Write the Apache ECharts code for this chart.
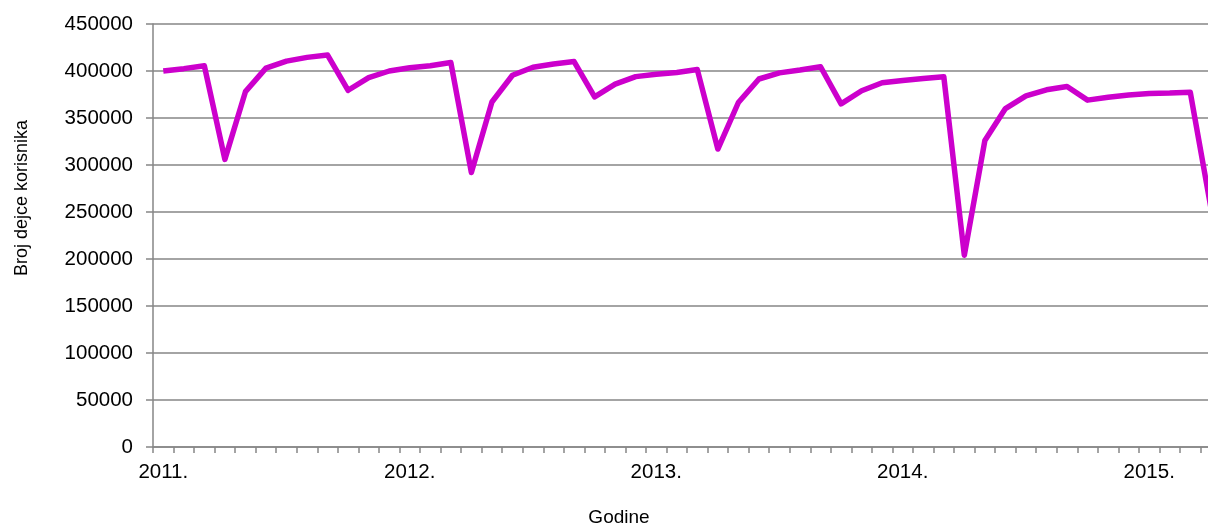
<!DOCTYPE html>
<html>
<head>
<meta charset="utf-8">
<title>Broj dejce korisnika</title>
<script src="https://cdn.jsdelivr.net/npm/echarts@6/dist/echarts.min.js"></script>
<style>
  html, body { margin: 0; padding: 0; background: #fff; }
  #chart { width: 1208px; height: 525px; }
</style>
</head>
<body>
<div id="chart"></div>
<script>
// godine i mjeseci (jan 2011 - apr 2015)
const years = ["2011", "2012", "2013", "2014", "2015"];
const months = [];
years.forEach((y) => {
  for (let m = 1; m <= 12; m++) {
    if (y === "2015" && m > 4) break;
    months.push(y + "-" + m);
  }
});

// broj dejce korisnika po mjesecima
const values2011 = [400000, 402500, 405500, 306000, 378000, 403000, 410500, 414500, 417000, 379500, 393000, 400000];
const values2012 = [403500, 405500, 409000, 292000, 367000, 395500, 404000, 407500, 410000, 372500, 386000, 394000];
const values2013 = [396500, 398500, 401500, 317000, 366500, 391500, 398000, 401000, 404500, 365000, 379000, 387500];
const values2014 = [390000, 392000, 394000, 204000, 326000, 360000, 373500, 380000, 383500, 369000, 372000, 374500];
const values2015 = [376000, 376500, 377500, 255000];
const seriesData = [].concat(values2011, values2012, values2013, values2014, values2015);

const yTicks = { min: 0, max: 450000, interval: 50000 };

const chart = echarts.init(document.getElementById("chart"));
const font = "Liberation Sans, Arial, sans-serif";
const axisGray = "#868686";

const option = {
  backgroundColor: "#fff",
  animation: false,
  grid: {
    left: 153,
    top: 24,
    bottom: 78,
    width: months.length * 20.54,
    containLabel: false,
    outerBoundsMode: "none",
  },
  xAxis: {
    type: "category",
    data: months,
    boundaryGap: true,
    axisLine: { show: true, lineStyle: { color: axisGray, width: 1.5 } },
    axisTick: {
      show: true,
      interval: 0,
      alignWithLabel: false,
      length: 6,
      lineStyle: { color: axisGray, width: 1.5 },
    },
    axisLabel: {
      interval: (idx) => idx % 12 === 0,
      formatter: (v) => v.split("-")[0] + ".",
      color: "#000",
      fontFamily: font,
      fontSize: 20.5,
      margin: 15,
    },
    splitLine: { show: false },
  },
  yAxis: {
    type: "value",
    min: yTicks.min,
    max: yTicks.max,
    interval: yTicks.interval,
    axisLine: { show: true, lineStyle: { color: axisGray, width: 1.5 } },
    axisTick: { show: true, length: 7, lineStyle: { color: axisGray, width: 1.5 } },
    axisLabel: {
      color: "#000",
      fontFamily: font,
      fontSize: 20.5,
      margin: 20,
      formatter: (v) => String(v),
    },
    splitLine: { lineStyle: { color: axisGray, width: 1.5 } },
  },
  graphic: [
    {
      type: "text",
      x: 22,
      y: 198,
      rotation: Math.PI / 2,
      style: {
        text: "Broj dejce korisnika",
        fill: "#000",
        font: "18px " + font,
        align: "center",
        verticalAlign: "middle",
      },
    },
    {
      type: "text",
      x: 619,
      y: 518,
      style: {
        text: "Godine",
        fill: "#000",
        font: "19px " + font,
        align: "center",
        verticalAlign: "middle",
      },
    },
  ],
  series: [
    {
      type: "line",
      data: seriesData,
      symbol: "none",
      lineStyle: { color: "#CC00CC", width: 5.5, join: "round" },
      itemStyle: { color: "#CC00CC" },
    },
  ],
};

chart.setOption(option);
</script>
</body>
</html>
